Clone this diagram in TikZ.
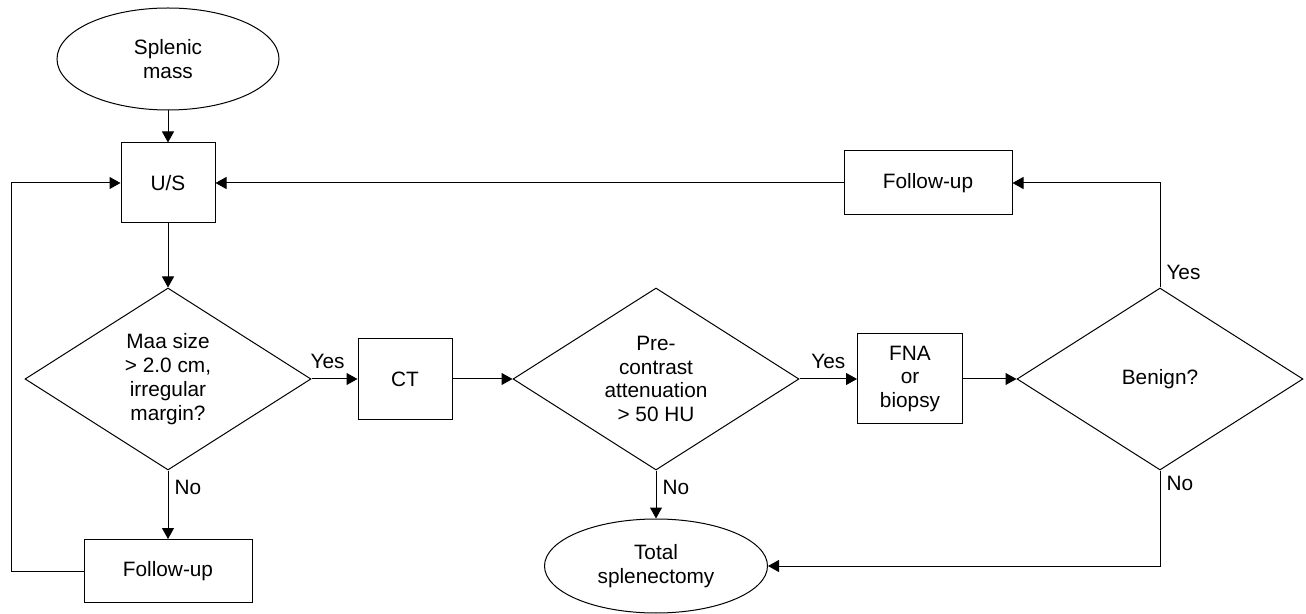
\documentclass[tikz,border=0pt]{standalone}
\usepackage{fontspec}
\setmainfont{Liberation Sans}
\usetikzlibrary{shapes.geometric,arrows.meta}

\begin{document}
\begin{tikzpicture}[x=0.5pt, y=-0.5pt, line width=0.5pt, >={Triangle[length=5.5pt,width=6pt]},
  every node/.style={font=\fontsize{10.4}{11.9}\selectfont, align=center},
  term/.style={draw, ellipse, inner sep=1pt},
  proc/.style={draw, rectangle, inner sep=1pt},
  test/.style={draw, diamond, aspect=1.57, inner sep=0pt, minimum width=143pt, minimum height=91pt},
  lbl/.style={inner sep=3pt}]
  \useasboundingbox (0,0) rectangle (1306,614);
  \node[term, minimum width=111pt, minimum height=51pt] (mass) at (168,59) {Splenic\\mass};
  \node[proc, minimum width=47pt, minimum height=40pt] (us) at (168,183) {U/S};
  \node[test] (size) at (168,379) {Maa size\\> 2.0 cm,\\irregular\\margin?};
  \node[proc, minimum width=47pt, minimum height=40.5pt] (ct) at (405,379) {CT};
  \node[proc, minimum width=84pt, minimum height=31.5pt] (fupa) at (168,571) {Follow-up};
  \node[test] (atten) at (656,379) {Pre-\\contrast\\attenuation\\> 50 HU};
  \node[proc, minimum width=52.5pt, minimum height=45pt] (fna) at (910,379) {FNA\\or\\biopsy};
  \node[term, minimum width=111.5pt, minimum height=47pt] (total) at (656,566) {Total\\splenectomy};
  \node[test] (benign) at (1160,379) {Benign?};
  \node[proc, minimum width=84pt, minimum height=32pt] (fupb) at (928,183) {Follow-up};
  \coordinate (loop) at (11,0);

  \draw[->] (mass) -- (us);
  \draw[->] (us) -- (size.north);
  \draw[->] (size.east) -- node[lbl, above, pos=0.35, yshift=2pt] {Yes} (ct);
  \draw[->] (ct) -- (atten.west);
  \draw[->] (atten.east) -- node[lbl, above, yshift=2pt] {Yes} (fna);
  \draw[->] (fna) -- (benign.west);
  \draw[->] (size.south) -- node[lbl, right, pos=0.25] {No} (fupa);
  \draw[->] (atten.south) -- node[lbl, right, pos=0.35] {No} (total);
  \draw[->] (fupa.west) -- (fupa.west -| loop) |- (us.west);
  \draw[->] (benign.north) |- node[lbl, right, pos=0.07] {Yes} (fupb.east);
  \draw[->] (fupb.west) -- (us.east);
  \draw[->] (benign.south) |- node[lbl, right, pos=0.07] {No} (total.east);
\end{tikzpicture}
\end{document}
